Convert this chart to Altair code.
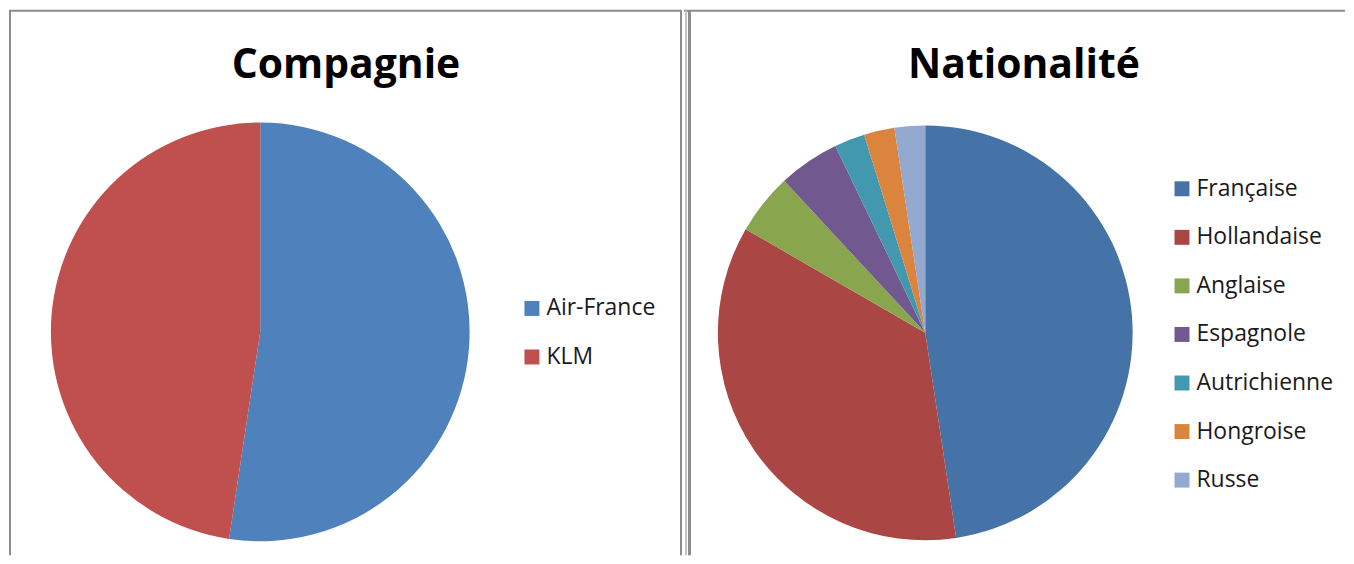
import altair as alt
import pandas as pd

# ---- data ----
titles = ["Compagnie", "Nationalité"]

compagnie = ["Air-France", "KLM"]
compagnie_vals = [22, 20]
compagnie_colors = ["#4F81BD", "#C0504D"]

nationalite = ["Française", "Hollandaise", "Anglaise", "Espagnole",
               "Autrichienne", "Hongroise", "Russe"]
nationalite_vals = [20, 15, 2, 2, 1, 1, 1]
nationalite_colors = ["#4572A7", "#AA4643", "#89A54E", "#71588F",
                      "#4198AF", "#DB843D", "#93A9CF"]

FONT = "Open Sans"
BORDER = "#8c8c8c"
H = 548


def panel(title, cats, vals, colors, width, cx, cy, r, lx, ly, tx, borders):
    df = pd.DataFrame({"cat": cats, "val": vals, "idx": list(range(len(cats)))})
    pie = alt.Chart(df).mark_arc(radius=r).encode(
        theta=alt.Theta("val:Q", stack=True),
        order=alt.Order("idx:Q"),
        color=alt.Color(
            "cat:N",
            scale=alt.Scale(domain=cats, range=colors),
            sort=cats,
            legend=alt.Legend(
                title=None, orient="none", legendX=lx, legendY=ly,
                symbolType="square", symbolSize=225, symbolStrokeWidth=0,
                labelFont=FONT, labelFontSize=23, labelColor="#1a1a1a",
                labelOffset=3, rowPadding=24.7, padding=0, labelLimit=300,
            ),
        ),
        x=alt.value(cx),
        y=alt.value(cy),
    )
    tdf = pd.DataFrame({"t": [title]})
    ttl = alt.Chart(tdf).mark_text(
        font=FONT, fontSize=41, fontWeight="bold", color="#000000",
        align="center", baseline="alphabetic",
    ).encode(x=alt.value(tx), y=alt.value(69), text="t:N")
    layers = [pie, ttl]
    for (x1, y1, x2, y2, w, c) in borders:
        layers.append(
            alt.Chart(tdf).mark_rule(strokeWidth=w, color=c).encode(
                x=alt.value(x1), y=alt.value(y1), x2=alt.value(x2), y2=alt.value(y2)
            )
        )
    return alt.layer(*layers).properties(width=width, height=H)


W1 = 675
W2 = 663
left = panel(
    titles[0], compagnie, compagnie_vals, compagnie_colors, W1,
    252, 324, 210, 513, 289, 338,
    [
        (0, 2, W1, 2, 2, BORDER),
        (1, 2, 1, H, 2, BORDER),
        (674, 2, 674, H, 2, BORDER),
    ],
)
right = panel(
    titles[1], nationalite, nationalite_vals, nationalite_colors, W2,
    242, 325, 208, 488, 169, 341,
    [
        (0, 2, W2, 2, 2, BORDER),
        (2, 2, 2, H, 2, "#c4c4c4"),
        (5.5, 2, 5.5, H, 3, BORDER),
    ],
)

chart = alt.hconcat(left, right, spacing=0).properties(
    padding=0
).configure_view(stroke=None).resolve_scale(color="independent")

chart.save("out.html", embed_options={"renderer": "svg", "actions": False})
